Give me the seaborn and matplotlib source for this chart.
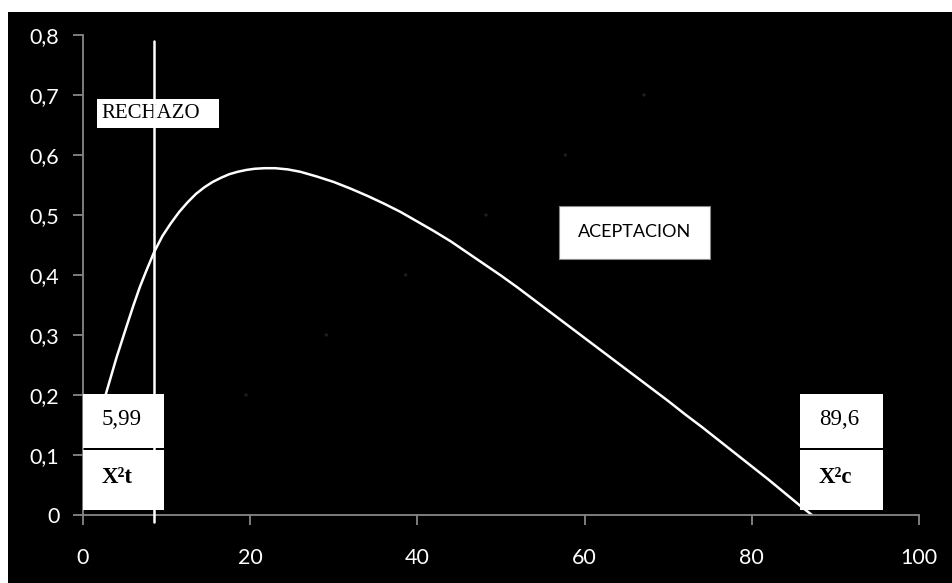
import matplotlib
matplotlib.use("Agg")
import matplotlib.pyplot as plt
from matplotlib.patches import Rectangle
import seaborn as sns
import pandas as pd

# ---- data ----
curve_x = [2.7, 4.0, 5.2, 6.0, 6.8, 7.6, 8.5, 9.5, 10.5, 11.5, 12.5, 13.5, 14.5, 15.5,
           16.5, 17.5, 18.5, 19.5, 20.5, 21.7, 23.0, 24.5, 26.0, 28.0, 30.0, 32.0, 34.0,
           36.0, 38.0, 40.0, 42.0, 44.0, 46.0, 48.0, 50.0, 52.0, 54.0, 56.0, 58.0, 60.0,
           62.0, 64.0, 66.0, 68.0, 70.0, 72.0, 74.0, 76.0, 78.0, 80.0, 82.0, 84.0, 86.0,
           87.2]
curve_y = [0.200, 0.262, 0.314, 0.348, 0.380, 0.408, 0.438, 0.465, 0.486, 0.505, 0.521,
           0.535, 0.546, 0.555, 0.562, 0.568, 0.572, 0.575, 0.577, 0.578, 0.578, 0.576,
           0.572, 0.564, 0.555, 0.544, 0.532, 0.519, 0.505, 0.489, 0.473, 0.456, 0.437,
           0.418, 0.399, 0.379, 0.358, 0.337, 0.316, 0.295, 0.274, 0.253, 0.232, 0.211,
           0.190, 0.168, 0.147, 0.125, 0.103, 0.081, 0.059, 0.036, 0.013, 0.0]
dot_x = [19.5, 29.1, 38.6, 48.2, 57.7, 67.1]
dot_y = [0.2, 0.3, 0.4, 0.5, 0.6, 0.7]
crit_x = 8.5
xticks = [0, 20, 40, 60, 80, 100]
yticks = [0, 0.1, 0.2, 0.3, 0.4, 0.5, 0.6, 0.7, 0.8]
ytick_labels = ["0", "0,1", "0,2", "0,3", "0,4", "0,5", "0,6", "0,7", "0,8"]
label_reject = "RECHAZO"
label_accept = "ACEPTACION"
value_t = "5,99"
value_c = "89,6"
name_t = "X²t"
name_c = "X²c"

sns.set_theme(style="white")
plt.rcParams["font.family"] = ["Lato", "DejaVu Sans"]

W, H = 953, 583
fig = plt.figure(figsize=(W / 100, H / 100), dpi=100, facecolor="white")
fig.patches.append(Rectangle((8 / W, 0), 1, (H - 12) / H, transform=fig.transFigure,
                             facecolor="black", edgecolor="none", zorder=-10))

ax = fig.add_axes([83 / W, 1 - 515 / H, (919 - 83) / W, (515 - 35) / H])
ax.set_facecolor("black")

df_curve = pd.DataFrame({"x": curve_x, "y": curve_y})
df_dots = pd.DataFrame({"x": dot_x, "y": dot_y})

sns.scatterplot(data=df_dots, x="x", y="y", ax=ax, color="#1e1e1e", s=6,
                edgecolor="none", zorder=1)
sns.lineplot(data=df_curve, x="x", y="y", ax=ax, color="white", linewidth=1.8,
             sort=False, estimator=None, zorder=2)

ax.set_xlim(0, 100)
ax.set_ylim(0, 0.8)
ax.set_xticks(xticks)
ax.set_xticklabels([str(v) for v in xticks])
ax.set_yticks(yticks)
ax.set_yticklabels(ytick_labels)
ax.set_xlabel("")
ax.set_ylabel("")

for s in ["top", "right"]:
    ax.spines[s].set_visible(False)
for s in ["left", "bottom"]:
    ax.spines[s].set_color("#878787")
    ax.spines[s].set_linewidth(1.3)
ax.tick_params(axis="both", which="major", direction="out", length=7, width=1.3,
               color="#878787", labelcolor="white", labelsize=15.5)
ax.tick_params(axis="x", pad=17, bottom=True)
ax.tick_params(axis="y", pad=10, left=True)

serif = ["Liberation Serif", "DejaVu Serif"]

# RECHAZO box
ax.add_patch(Rectangle((1.65, 0.6455), 14.6, 0.0475, facecolor="white",
                       edgecolor="none", zorder=4, clip_on=False))
ax.text(2.2, 0.669, label_reject, family=serif, fontsize=15, color="black",
        ha="left", va="center", zorder=5)

# ACEPTACION box
ax.add_patch(Rectangle((56.95, 0.426), 18.1, 0.089, facecolor="white",
                       edgecolor="#888888", linewidth=0.8, zorder=4))
ax.text(66.0, 0.472, label_accept, fontsize=13, color="black",
        ha="center", va="center", zorder=5)

# bottom boxes
for x0, w, val, name in [(0.0, 9.7, value_t, name_t), (85.8, 9.9, value_c, name_c)]:
    ax.add_patch(Rectangle((x0, 0.112), w, 0.090, facecolor="white",
                           edgecolor="none", zorder=4, clip_on=False))
    ax.add_patch(Rectangle((x0, 0.009), w, 0.099, facecolor="white",
                           edgecolor="none", zorder=4, clip_on=False))
    ax.text(x0 + 2.2, 0.159, val, family=serif, fontsize=16.5, color="black",
            ha="left", va="center", zorder=5)
    ax.text(x0 + 2.2, 0.062, name, family=serif, fontsize=16.5, fontweight="bold",
            color="black", ha="left", va="center", zorder=5)

# critical vertical line
ax.plot([crit_x, crit_x], [-0.012, 0.79], color="white", linewidth=1.8,
        zorder=6, clip_on=False)

fig.savefig("out.png", dpi=100, facecolor="white")
